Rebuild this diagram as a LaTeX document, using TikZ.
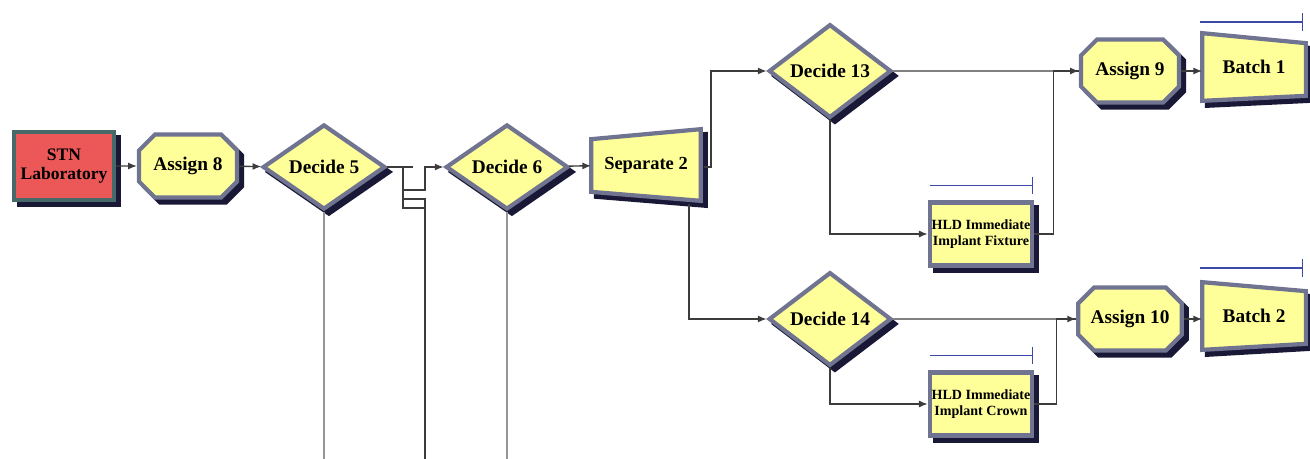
\documentclass[tikz,border=0pt]{standalone}
\usepackage{fontspec}
\setmainfont{Liberation Serif}
\usetikzlibrary{shapes.geometric, shapes.misc, shadows, arrows.meta}

\pgfdeclarelayer{background}
\pgfsetlayers{background,main}

\definecolor{boxyellow}{RGB}{255,255,153}
\definecolor{labred}{RGB}{236,88,88}
\definecolor{labedge}{RGB}{70,105,105}
\definecolor{bevlight}{RGB}{112,116,145}
\definecolor{bevdark}{RGB}{25,25,55}
\definecolor{linkgray}{RGB}{60,60,60}
\definecolor{dropgray}{RGB}{150,150,150}
\definecolor{queueblue}{RGB}{60,75,170}

\tikzset{
  shell/.style={draw=bevlight, line width=2.4pt, fill=boxyellow,
    general shadow={fill=bevdark, draw=bevdark, line width=2.4pt, shadow xshift=2.8pt, shadow yshift=-2.8pt}},
  module/.style={shell, align=center, inner sep=1pt, font=\bfseries\fontsize{11}{12}\selectfont},
  create/.style={module, rectangle, fill=labred, draw=labedge, minimum width=2.0cm, minimum height=1.36cm,
    font=\bfseries\fontsize{10}{11}\selectfont},
  assign/.style={module, chamfered rectangle, chamfered rectangle xsep=0.28cm, minimum width=1.96cm, minimum height=1.26cm},
  decide/.style={module, diamond, minimum width=2.45cm, minimum height=1.7cm, inner sep=0pt},
  process/.style={module, rectangle, minimum width=1.96cm, minimum height=1.26cm,
    font=\bfseries\fontsize{8}{9.5}\selectfont},
  % text holders for the slanted modules, the outline is drawn behind them
  slantbody/.style={rectangle, align=center, inner sep=0pt, font=\bfseries\fontsize{11}{12}\selectfont},
  conn/.style={draw=linkgray, line width=0.8pt, -{Latex[length=5pt,width=4pt]}},
  link/.style={draw=linkgray, line width=0.8pt},
  drop/.style={draw=dropgray, line width=1pt},
  queue/.style={draw=queueblue, line width=0.8pt, -{Bar[width=10pt]}},
}

\begin{document}
\begin{tikzpicture}[x=0.02cm, y=-0.02cm]
	\useasboundingbox (0,0) rectangle (1310,459);
	\coordinate (floor) at (0,462);
	%
	%modules
	\node[create] (stn) at (64,166) {STN\\Laboratory};
	\node[assign] (asg8) at (188,166) {Assign 8};
	\node[decide] (dec5) at (324,167) {Decide 5};
	\node[decide] (dec6) at (507,167) {Decide 6};
	\node[slantbody, minimum width=2.18cm, minimum height=1.42cm, font=\bfseries\fontsize{10.5}{12}\selectfont] (sep2) at (646,165) {Separate 2};
	\node[decide] (dec13) at (830,71) {Decide 13};
	\node[decide] (dec14) at (830,319) {Decide 14};
	\node[process] (hld1) at (981,234) {HLD Immediate\\Implant Fixture};
	\node[process] (hld2) at (981,404) {HLD Immediate\\Implant Crown};
	\node[assign] (asg9) at (1130,71) {Assign 9};
	\node[assign] (asg10) at (1130,319) {Assign 10};
	\node[slantbody, minimum width=2.06cm, minimum height=1.34cm] (batch1) at (1254,67) {Batch 1};
	\node[slantbody, minimum width=2.06cm, minimum height=1.34cm] (batch2) at (1254,316) {Batch 2};
	%
	%slanted outlines
	\begin{pgfonlayer}{background}
		\path[shell] ([shift={(0,10)}]sep2.north west) -- (sep2.north east) -- (sep2.south east) -- ([shift={(0,-9)}]sep2.south west) -- cycle;
		\path[shell] (batch1.north west) -- ([shift={(0,10)}]batch1.north east) -- ([shift={(0,-5)}]batch1.south east) -- (batch1.south west) -- cycle;
		\path[shell] (batch2.north west) -- ([shift={(0,9)}]batch2.north east) -- ([shift={(0,-6)}]batch2.south east) -- (batch2.south west) -- cycle;
	\end{pgfonlayer}
	%
	%queues
	\draw[queue] ([shift={(-51,-15)}]hld1.north) -- ([shift={(52,-15)}]hld1.north);
	\draw[queue] ([shift={(-51,-15)}]hld2.north) -- ([shift={(52,-15)}]hld2.north);
	\draw[queue] ([shift={(-54,-45)}]batch1.center) -- ([shift={(49,-45)}]batch1.center);
	\draw[queue] ([shift={(-54,-48)}]batch2.center) -- ([shift={(49,-48)}]batch2.center);
	%
	%decide 5 branches
	\coordinate (d5tee) at (403,167);
	\coordinate (d5stub) at (413,167);
	\coordinate (d5up) at (425,190);
	\coordinate (d5mid) at (425,199);
	\coordinate (d5low) at (425,208);
	\draw[link] (dec5.east) -- (d5stub);
	\draw[link] (d5tee) |- (d5low);
	\draw[link] (d5tee |- d5mid) -- (d5mid) -- (d5mid |- floor);
	\draw[conn] (d5tee |- d5up) -- (d5up) |- (dec6);
	\draw[drop] (dec5.south) -- (dec5.south |- floor);
	\draw[drop] (dec6.south) -- (dec6.south |- floor);
	%
	%connections
	\draw[conn] (stn) -- (asg8);
	\draw[conn] (asg8) -- (dec5);
	\draw[conn] (dec6) -- (sep2);
	\draw[conn] ([shift={(3,2)}]sep2.east) -- ++(7,0) |- (dec13);
	\draw[conn] ([shift={(43,3)}]sep2.south) |- (dec14);
	\draw[conn] (dec13) -- (asg9);
	\draw[conn] (dec13.south) |- (hld1);
	\draw[link] (hld1.east) -- ++(19,0) |- (asg9.west);
	\draw[conn] (asg9.east) -- (asg9.east -| batch1.west);
	\draw[conn] (dec14) -- (asg10);
	\draw[conn] (dec14.south) |- (hld2);
	\draw[link] (hld2.east) -- ++(22,0) |- (asg10.west);
	\draw[conn] (asg10.east) -- (asg10.east -| batch2.west);
\end{tikzpicture}
\end{document}
